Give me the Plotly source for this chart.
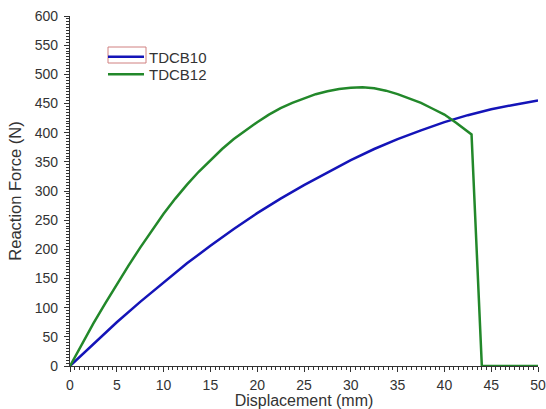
import plotly.graph_objects as go

# Data
tdcb10_x = [0, 2.5, 5, 7.5, 10, 12.5, 15, 17.5, 20, 22.5, 25, 27.5, 30, 32.5, 35, 37.5, 40, 42.5, 45, 47.5, 50]
tdcb10_y = [0, 38, 75, 110, 143, 176, 206, 235, 262, 287, 310, 332, 353, 372, 389, 404, 418, 430, 440, 448, 455]

tdcb12_x = [0, 1.25, 2.5, 3.75, 5, 6.25, 7.5, 8.75, 10, 11.25, 12.5, 13.75, 15, 16.25, 17.5, 18.75, 20,
            21.25, 22.5, 23.75, 25, 26.25, 27.5, 28.75, 30, 31.25, 32.5, 33.75, 35, 36.25, 37.5, 38.75, 40,
            41.25, 42.5, 42.9, 44.0, 50]
tdcb12_y = [0, 37, 73, 107, 140, 172, 203, 233, 261, 287, 311, 333, 353, 372, 389, 404, 418,
            431, 442, 451, 459, 466, 471, 475, 477, 478, 476, 472, 466, 459, 451, 441, 431,
            417, 402, 397, 0, 0]

x_ticks = [0, 5, 10, 15, 20, 25, 30, 35, 40, 45, 50]
y_ticks = [0, 50, 100, 150, 200, 250, 300, 350, 400, 450, 500, 550, 600]

FONT = "Arial, Liberation Sans, sans-serif"
TXT = "#333333"

fig = go.Figure()
fig.add_trace(go.Scatter(x=tdcb10_x, y=tdcb10_y, mode="lines", name="TDCB10", legend="legend",
                         line=dict(color="#1414b8", width=2.5), cliponaxis=False))
fig.add_trace(go.Scatter(x=tdcb12_x, y=tdcb12_y, mode="lines", name="TDCB12", legend="legend2",
                         line=dict(color="#22882a", width=2.5), cliponaxis=False))

axis_common = dict(
    showgrid=False, zeroline=False, showline=True, linecolor="#333333", linewidth=1.2,
    ticks="outside", ticklen=5, tickwidth=1.2, tickcolor="#333333",
    tickfont=dict(family=FONT, size=14, color=TXT),
    mirror=False, automargin=False, ticklabeloverflow="allow",
)

fig.update_xaxes(range=[0, 50], tickvals=x_ticks, ticktext=[str(v) for v in x_ticks],
                 minor=dict(dtick=0.5, ticks="outside", ticklen=3, tickcolor="#333333", tickwidth=1),
                 title=dict(text="Displacement (mm)", font=dict(family=FONT, size=16, color=TXT),
                            standoff=5),
                 ticklabelstandoff=1,
                 **axis_common)
fig.update_yaxes(range=[0, 600], tickvals=y_ticks, ticktext=[str(v) for v in y_ticks],
                 minor=dict(dtick=5, ticks="outside", ticklen=3, tickcolor="#333333", tickwidth=1),
                 title=dict(text="Reaction Force (N)", font=dict(family=FONT, size=16.5, color=TXT),
                            standoff=8),
                 ticklabelstandoff=3,
                 **axis_common)

fig.add_shape(type="rect", xref="paper", yref="paper", x0=0.0812, x1=0.1624, y0=0.8657, y1=0.9114,
              line=dict(color="#d08080", width=1), fillcolor="rgba(0,0,0,0)", layer="below")

leg_common = dict(xanchor="left", yanchor="middle",
                  font=dict(family=FONT, size=15, color=TXT),
                  bgcolor="rgba(0,0,0,0)", borderwidth=0, itemwidth=36)

fig.update_layout(
    width=546, height=409,
    margin=dict(l=70, r=8, t=16, b=43),
    plot_bgcolor="white", paper_bgcolor="white",
    showlegend=True,
    legend=dict(x=0.0705, y=0.883, **leg_common),
    legend2=dict(x=0.0705, y=0.833, **leg_common),
)

# remove the browser's default 8px body margin so the figure fills the window exactly
fig.write_html("out.html", config={"displayModeBar": False},
               post_script="document.body.style.margin='0';document.body.style.overflow='hidden';")
